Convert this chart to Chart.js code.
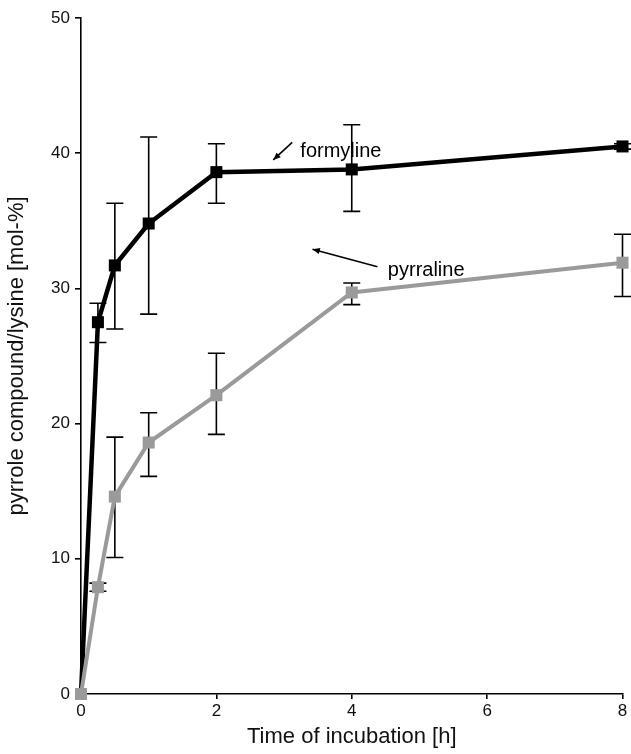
<!DOCTYPE html>
<html>
<head>
<meta charset="utf-8">
<script src="https://cdn.jsdelivr.net/npm/chart.js@4/dist/chart.umd.min.js"></script>
<style>
    html, body { margin: 0; padding: 0; background: #fff; }
    #wrap { width: 631px; height: 754px; }
</style>
</head>
<body>
<div id="wrap"><canvas id="kineticsChart"></canvas></div>
<script>
// ===========================
// Data
// ===========================

const timeHours = [0, 0.25, 0.5, 1, 2, 4, 8];

const formyline = [0, 27.5, 31.7, 34.8, 38.6, 38.8, 40.5];
const formylineLow = [0, 26.0, 27.0, 28.1, 36.3, 35.7, 40.3];
const formylineHigh = [0, 28.9, 36.3, 41.2, 40.7, 42.1, 40.7];

const pyrraline = [0, 7.9, 14.6, 18.6, 22.1, 29.7, 31.9];
const pyrralineLow = [0, 7.6, 10.1, 16.1, 19.2, 28.8, 29.4];
const pyrralineHigh = [0, 8.2, 19.0, 20.8, 25.2, 30.4, 34.0];

const xTicks = [0, 2, 4, 6, 8];
const yTicks = [0, 10, 20, 30, 40, 50];

// label text, label position, arrow start -> arrow end (data units)
const notes = [
    { text: 'formyline', at: [3.84, 40.1], from: [3.12, 40.8], to: [2.84, 39.5] },
    { text: 'pyrraline', at: [5.1, 31.3], from: [4.38, 31.6], to: [3.42, 32.9] }
];

const FONT = '"Liberation Sans", Arial, sans-serif';

function toPoints(ys) {
    return timeHours.map((x, i) => ({ x: x, y: ys[i] }));
}

// ===========================
// Error bars + notes plugin
// ===========================

const errorBars = {
    id: 'errorBars',
    beforeDatasetsDraw(chart) {
        const { ctx, scales: { x, y } } = chart;
        const sets = [[formylineLow, formylineHigh], [pyrralineLow, pyrralineHigh]];
        ctx.save();
        ctx.strokeStyle = '#000';
        ctx.lineWidth = 1.6;
        sets.forEach(([lo, hi]) => {
            timeHours.forEach((t, i) => {
                if (hi[i] === lo[i]) return;
                const px = x.getPixelForValue(t);
                const top = y.getPixelForValue(hi[i]);
                const bot = y.getPixelForValue(lo[i]);
                ctx.beginPath();
                ctx.moveTo(px, top); ctx.lineTo(px, bot);
                ctx.moveTo(px - 8.5, top); ctx.lineTo(px + 8.5, top);
                ctx.moveTo(px - 8.5, bot); ctx.lineTo(px + 8.5, bot);
                ctx.stroke();
            });
        });
        ctx.restore();
    },
    afterDatasetsDraw(chart) {
        const { ctx, scales: { x, y } } = chart;
        ctx.save();
        ctx.fillStyle = '#000';
        ctx.strokeStyle = '#000';
        ctx.lineWidth = 1.6;
        ctx.font = '20px ' + FONT;
        ctx.textAlign = 'center';
        ctx.textBaseline = 'middle';
        notes.forEach(n => {
            ctx.fillText(n.text, x.getPixelForValue(n.at[0]), y.getPixelForValue(n.at[1]));
            const x1 = x.getPixelForValue(n.from[0]), y1 = y.getPixelForValue(n.from[1]);
            const x2 = x.getPixelForValue(n.to[0]), y2 = y.getPixelForValue(n.to[1]);
            const a = Math.atan2(y2 - y1, x2 - x1);
            ctx.beginPath();
            ctx.moveTo(x1, y1); ctx.lineTo(x2, y2);
            ctx.stroke();
            ctx.beginPath();
            ctx.moveTo(x2, y2);
            ctx.lineTo(x2 - 8 * Math.cos(a - 0.4), y2 - 8 * Math.sin(a - 0.4));
            ctx.lineTo(x2 - 8 * Math.cos(a + 0.4), y2 - 8 * Math.sin(a + 0.4));
            ctx.closePath();
            ctx.fill();
        });
        ctx.restore();
    }
};

// ===========================
// Chart
// ===========================

new Chart(document.getElementById('kineticsChart'), {
    type: 'line',
    data: {
        datasets: [{
            label: 'pyrraline',
            data: toPoints(pyrraline),
            borderColor: '#9a9a9a',
            backgroundColor: '#9a9a9a',
            borderWidth: 4,
            pointStyle: 'rect',
            pointRadius: 8.5,
            pointBorderWidth: 0,
            tension: 0,
            clip: false
        }, {
            label: 'formyline',
            data: toPoints(formyline),
            borderColor: '#000',
            backgroundColor: '#000',
            borderWidth: 4.5,
            pointStyle: 'rect',
            pointRadius: 8.5,
            pointBorderWidth: 0,
            tension: 0,
            clip: false
        }]
    },
    options: {
        responsive: true,
        maintainAspectRatio: false,
        animation: false,
        layout: { padding: { top: 18, right: 5, left: 0, bottom: 0 } },
        plugins: {
            legend: { display: false },
            tooltip: { enabled: false }
        },
        scales: {
            x: {
                type: 'linear',
                min: 0,
                max: 8,
                afterBuildTicks: s => { s.ticks = xTicks.map(v => ({ value: v })); },
                afterFit: s => { s.height = 60; },
                border: { color: '#000', width: 1.6 },
                grid: { drawOnChartArea: false, color: '#000', tickLength: 5, lineWidth: 1.6 },
                ticks: { color: '#111', font: { family: FONT, size: 17 }, padding: 2 },
                title: {
                    display: true,
                    text: 'Time of incubation [h]',
                    color: '#111',
                    font: { family: FONT, size: 22 },
                    padding: { top: 0 }
                }
            },
            y: {
                min: 0,
                max: 50,
                afterBuildTicks: s => { s.ticks = yTicks.map(v => ({ value: v })); },
                afterFit: s => { s.width = 81; },
                border: { color: '#000', width: 1.6 },
                grid: { drawOnChartArea: false, color: '#000', tickLength: 6, lineWidth: 1.6 },
                ticks: { color: '#111', font: { family: FONT, size: 17 }, padding: 5 },
                title: {
                    display: true,
                    text: 'pyrrole compound/lysine [mol-%]',
                    color: '#111',
                    font: { family: FONT, size: 22 },
                    padding: { bottom: 4 }
                }
            }
        }
    },
    plugins: [errorBars]
});
</script>
</body>
</html>
